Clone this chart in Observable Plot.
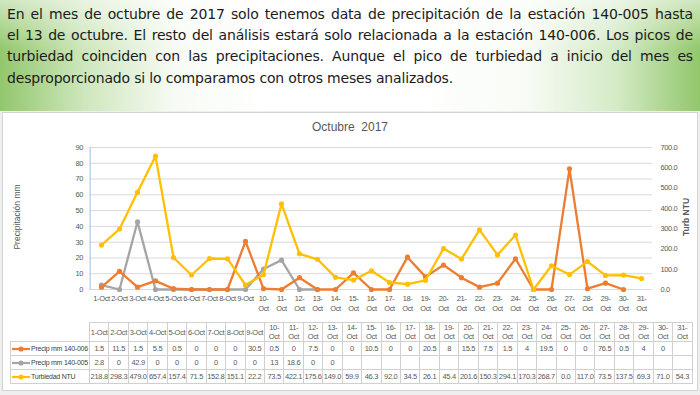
<!DOCTYPE html>
<html><head><meta charset="utf-8">
<script src="https://cdn.jsdelivr.net/npm/d3@7"></script>
<script src="https://cdn.jsdelivr.net/npm/@observablehq/plot@0.6"></script>
<style>
  html,body{margin:0;padding:0;}
  body{width:700px;height:395px;overflow:hidden;position:relative;background:#efefef;}
  #banner{position:absolute;left:0;top:0;width:700px;height:111px;
    background:
      linear-gradient(180deg, rgba(255,255,255,0.55) 0%, rgba(255,255,255,0) 45%),
      linear-gradient(90deg, rgba(140,196,100,0.95) 0%, rgba(185,220,160,0.7) 12%, rgba(235,245,228,0.4) 25%, rgba(255,255,255,0) 38%),
      linear-gradient(270deg, rgba(140,196,100,0.95) 0%, rgba(190,224,168,0.65) 12%, rgba(235,245,228,0.35) 25%, rgba(255,255,255,0) 40%),
      #ffffff;}
  .tline{position:absolute;left:7px;width:686px;white-space:nowrap;font-family:"DejaVu Sans",sans-serif;font-size:14px;color:#1b1b1b;line-height:18px;}
  .just{text-align:justify;text-align-last:justify;}
  #panel{position:absolute;left:2px;top:112px;width:694px;height:277px;background:#fff;border:1px solid #d4d4d4;}
  #chart{position:absolute;left:0;top:113px;}
  #title{position:absolute;left:0;width:700px;top:120px;text-align:center;font-family:"Liberation Sans",sans-serif;font-size:12px;color:#595959;white-space:pre;}
  .atitle{position:absolute;font-family:"Liberation Sans",sans-serif;font-size:8.5px;color:#595959;white-space:nowrap;transform-origin:center;}
  #tbl{position:absolute;left:10px;top:322px;width:682px;border-collapse:collapse;table-layout:fixed;font-family:"Liberation Sans",sans-serif;font-size:7.5px;letter-spacing:-0.3px;color:#595959;}
  #tbl td{border:1px solid #d0d0d0;padding:0;text-align:center;white-space:nowrap;overflow:visible;}
  #tbl td.corner{border:none;}
  #tbl tr.head td{height:18px;line-height:9px;}
  #tbl tr.row td{height:13px;line-height:13px;}
  #tbl td.lab{text-align:left;color:#404040;font-size:7px;letter-spacing:-0.25px;}
</style>
</head><body>
<div id="banner"></div>
<div id="panel"></div>
<div id="title"></div>
<div id="chart"></div>
<div class="atitle" id="ylab"></div>
<div class="atitle" id="y2lab" style="font-weight:bold"></div>
<table id="tbl"></table>
<script>
// ---------- data ----------
const textLines = [
  "En el mes de octubre de 2017 solo tenemos data de precipitación de la estación 140-005 hasta",
  "el 13 de octubre. El resto del análisis estará solo relacionada a la estación 140-006. Los picos de",
  "turbiedad coinciden con las precipitaciones. Aunque el pico de turbiedad a inicio del mes es",
  "desproporcionado si lo comparamos con otros meses analizados."
];
const chartTitle = "Octubre  2017";
const yTitle = "Precipitación mm";
const y2Title = "Turb NTU";
const days = ["1-Oct","2-Oct","3-Oct","4-Oct","5-Oct","6-Oct","7-Oct","8-Oct","9-Oct","10-Oct",
  "11-Oct","12-Oct","13-Oct","14-Oct","15-Oct","16-Oct","17-Oct","18-Oct","19-Oct","20-Oct",
  "21-Oct","22-Oct","23-Oct","24-Oct","25-Oct","26-Oct","27-Oct","28-Oct","29-Oct","30-Oct","31-Oct"];
const seriesNames = ["Precip mm 140-006","Precip mm 140-005","Turbiedad NTU"];
const seriesColors = ["#ED7D31","#A5A5A5","#FFC000"];
const precip006 = [1.5,11.5,1.5,5.5,0.5,0,0,0,30.5,0.5,0,7.5,0,0,10.5,0,0,20.5,8,15.5,7.5,1.5,4,19.5,0,0,76.5,0.5,4,0,null];
const precip005 = [2.8,0,42.9,0,0,0,0,0,0,13,18.6,0,0,null,null,null,null,null,null,null,null,null,null,null,null,null,null,null,null,null,null];
const turbiedad = [218.8,298.3,479.0,657.4,157.4,71.5,152.8,151.1,22.2,73.5,422.1,175.6,149.0,59.9,46.3,92.0,34.5,26.1,45.4,201.6,150.3,294.1,170.3,268.7,0.0,117.0,73.5,137.5,69.3,71.0,54.3];
const yTicks = [0,10,20,30,40,50,60,70,80,90];
const y2Ticks = [0,100,200,300,400,500,600,700];
const yMax = 90, y2Max = 700;

// ---------- banner text ----------
const banner = document.getElementById("banner");
const tops = [5, 26, 47, 69];
textLines.forEach((t, i) => {
  const d = document.createElement("div");
  d.className = "tline" + (i < 3 ? " just" : "");
  d.style.top = tops[i] + "px";
  d.textContent = t;
  banner.appendChild(d);
});
(function fit(){
  const lines = banner.querySelectorAll(".tline");
  const last = lines[3];
  last.style.width = "auto";
  const w = last.getBoundingClientRect().width;
  const ls = (446 - w) / textLines[3].length;
  lines.forEach((l, i) => {
    l.style.letterSpacing = ls + "px";
    if (i < 3) {
      l.style.width = "auto"; l.style.textAlignLast = "left";
      const lw = l.getBoundingClientRect().width;
      if (lw > 686) l.style.letterSpacing = (ls - (lw - 686) / textLines[i].length) + "px";
      l.style.width = "686px"; l.style.textAlignLast = "justify";
    }
  });
})();

// ---------- titles ----------
document.getElementById("title").textContent = chartTitle;
const yl = document.getElementById("ylab");
yl.textContent = yTitle;
const y2l = document.getElementById("y2lab");
y2l.textContent = y2Title;
function placeRot(el, cx, cy){
  const r = el.getBoundingClientRect();
  el.style.left = (cx - r.width/2) + "px";
  el.style.top = (cy - r.height/2) + "px";
  el.style.transform = "rotate(-90deg)";
}
placeRot(yl, 17, 217);
placeRot(y2l, 686, 217);

// ---------- chart ----------
const K = yMax / y2Max;
const rows = days.map((d, i) => ({day: d, p6: precip006[i], p5: precip005[i], t: turbiedad[i] == null ? null : turbiedad[i] * K}));
const fmtDay = d => { const [n, m] = d.split("-"); return +n >= 10 ? n + "-\n" + m : d; };
const font = "'Liberation Sans',sans-serif";
const series = [
  {key: "p6", color: seriesColors[0]},
  {key: "p5", color: seriesColors[1]},
  {key: "t", color: seriesColors[2]}
];
const seriesMarks = [];
for (const s of [series[1], series[0], series[2]]) {
  const data = rows.filter(r => r[s.key] != null);
  seriesMarks.push(Plot.line(data, {x: "day", y: s.key, stroke: s.color, strokeWidth: 2.3, strokeLinejoin: "round"}));
  seriesMarks.push(Plot.dot(data, {x: "day", y: s.key, fill: s.color, r: 2.6}));
}
const chart = Plot.plot({
  width: 700, height: 206,
  marginLeft: 89.6, marginRight: 48, marginTop: 34, marginBottom: 30,
  style: {fontFamily: font, fontSize: "7.5px", color: "#595959", background: "transparent", overflow: "visible", letterSpacing: "-0.4px"},
  x: {type: "band", domain: days, padding: 0},
  y: {domain: [0, yMax]},
  marks: [
    Plot.ruleY(yTicks, {stroke: "#d9d9d9", strokeWidth: 1}),
    Plot.frame({anchor: "left", stroke: "#a9cbe8", strokeWidth: 1.2}),
    Plot.axisX({tickSize: 0, tickPadding: 5, tickFormat: fmtDay, lineHeight: 1.25, label: null}),
    Plot.axisY(yTicks, {anchor: "left", tickSize: 0, tickPadding: 7, label: null}),
    Plot.axisY(y2Ticks.map(v => v * K), {anchor: "right", tickSize: 0, tickPadding: 8, textAnchor: "start",
      tickFormat: v => (Math.round(v / K)).toFixed(1), label: null}),
    ...seriesMarks
  ]
});
document.getElementById("chart").appendChild(chart);

// ---------- data table ----------
const tbl = d3.select("#tbl");
const cg = tbl.append("colgroup");
cg.append("col").style("width", "79px");
days.forEach(() => cg.append("col").style("width", "19.45px"));
const head = tbl.append("tr").attr("class", "head");
head.append("td").attr("class", "corner");
days.forEach(d => {
  const [n, m] = d.split("-");
  const td = head.append("td");
  if (+n >= 10) td.html(n + "-<br>" + m); else td.text(d);
});
const tableSeries = [precip006, precip005, turbiedad];
tableSeries.forEach((vals, si) => {
  const tr = tbl.append("tr").attr("class", "row");
  const lab = tr.append("td").attr("class", "lab");
  const mk = lab.append("svg").attr("width", 18).attr("height", 8).style("vertical-align", "middle").style("margin", "0 1px 0 1px");
  mk.append("line").attr("x1", 0).attr("x2", 18).attr("y1", 4).attr("y2", 4).attr("stroke", seriesColors[si]).attr("stroke-width", 2.2);
  mk.append("circle").attr("cx", 9).attr("cy", 4).attr("r", 2.6).attr("fill", seriesColors[si]);
  lab.append("span").text(seriesNames[si]);
  vals.forEach(v => tr.append("td").text(v == null ? "" : (si === 2 ? v.toFixed(1) : String(v))));
});
</script>
</body></html>
